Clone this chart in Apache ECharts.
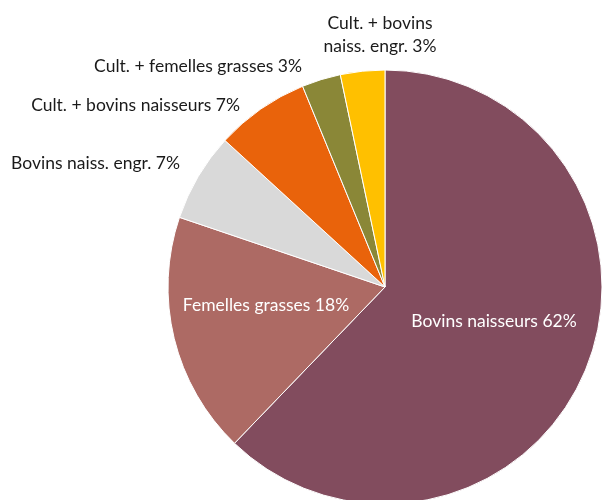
<!DOCTYPE html>
<html>
<head>
<meta charset="utf-8">
<script src="https://cdn.jsdelivr.net/npm/echarts@6/dist/echarts.min.js"></script>
<style>html,body{margin:0;padding:0;background:#fff}#c{width:602px;height:500px}</style>
</head>
<body>
<div id="c"></div>
<script>
const categories = ["Bovins naisseurs", "Femelles grasses", "Bovins naiss. engr.", "Cult. + bovins naisseurs", "Cult. + femelles grasses", "Cult. + bovins\nnaiss. engr."];
const values = [62.2, 18.0, 6.6, 7.0, 2.9, 3.3];
const colors = ["#824C5E", "#AD6A64", "#D9D9D9", "#E9630B", "#8A8737", "#FFC000"];

const labelSpots = [
  {x: 494, y: 321, align: 'center', color: '#fff'},
  {x: 266, y: 305, align: 'center', color: '#fff'},
  {x: 180, y: 163, align: 'right', color: '#1a1a1a'},
  {x: 240, y: 105, align: 'right', color: '#1a1a1a'},
  {x: 302, y: 66, align: 'right', color: '#1a1a1a'},
  {x: 380, y: 35, align: 'center', color: '#1a1a1a'}
];

const chart = echarts.init(document.getElementById('c'), null, {renderer: 'canvas'});
chart.setOption({
  animation: false,
  series: [{
    type: 'pie',
    center: [385, 287],
    radius: 217,
    startAngle: 90,
    clockwise: true,
    percentPrecision: 0,
    avoidLabelOverlap: false,
    itemStyle: {borderColor: '#fff', borderWidth: 1},
    label: {
      show: true,
      position: 'inside',
      formatter: '{b} {d}%',
      fontFamily: 'Lato',
      fontSize: 17.5,
      lineHeight: 23,
      color: '#1a1a1a'
    },
    labelLine: {show: false},
    labelLayout: function (p) {
      const s = labelSpots[p.dataIndex];
      return {x: s.x, y: s.y, align: s.align, verticalAlign: 'middle'};
    },
    data: categories.map((n, i) => ({
      name: n,
      value: values[i],
      itemStyle: {color: colors[i]},
      label: {color: labelSpots[i].color, align: labelSpots[i].align}
    }))
  }]
});
</script>
</body>
</html>
